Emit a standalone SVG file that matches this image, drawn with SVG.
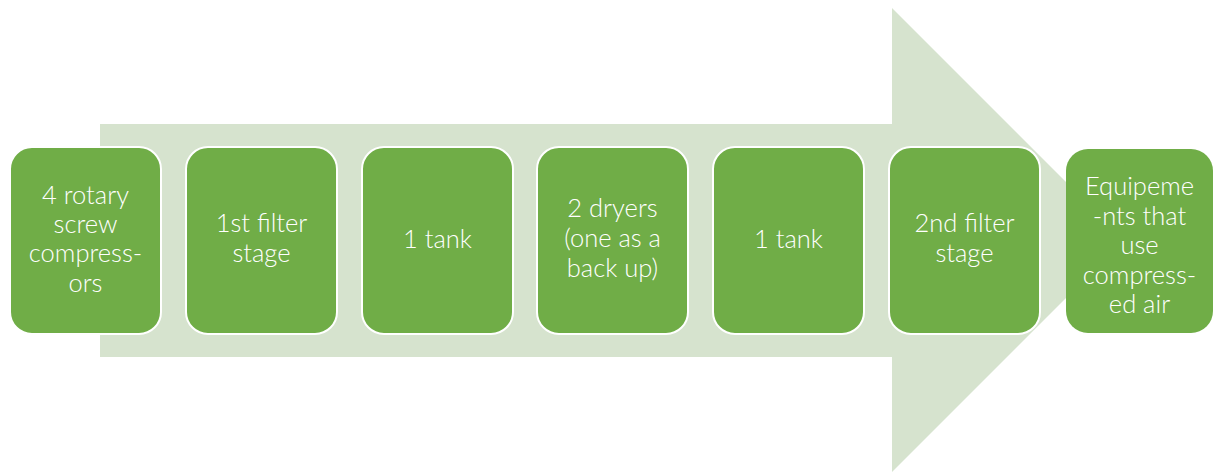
<svg xmlns="http://www.w3.org/2000/svg" width="1213" height="472" viewBox="0 0 1213 472">
<style>
.box{fill:#70AD47;stroke:#FFFFFF;stroke-width:2}
.t{fill:#FFFFFF;font-family:Lato,"Liberation Sans",sans-serif;font-weight:300;font-size:25.5px;text-anchor:middle}
</style>
<rect width="1213" height="472" fill="#FFFFFF"/>
<g id="connectors">
<path d="M100,124 H892 V8 L1124,240 L892,472 V357 H100 Z" fill="#D6E3CE"/>
</g>
<g id="n1"><rect class="box" x="10" y="147" width="151" height="187" rx="22"/>
<text class="t"><tspan x="85.5" y="204">4 rotary</tspan><tspan x="85.5" y="233">screw</tspan><tspan x="85.5" y="262">compress-</tspan><tspan x="85.5" y="292">ors</tspan></text></g>
<g id="n2"><rect class="box" x="186" y="147" width="151" height="187" rx="22"/>
<text class="t"><tspan x="261.5" y="232">1st filter</tspan><tspan x="261.5" y="262">stage</tspan></text></g>
<g id="n3"><rect class="box" x="362" y="147" width="151" height="187" rx="22"/>
<text class="t"><tspan x="437.5" y="248">1 tank</tspan></text></g>
<g id="n4"><rect class="box" x="537" y="147" width="151" height="187" rx="22"/>
<text class="t"><tspan x="612.5" y="217">2 dryers</tspan><tspan x="612.5" y="247">(one as a</tspan><tspan x="612.5" y="277">back up)</tspan></text></g>
<g id="n5"><rect class="box" x="713" y="147" width="151" height="187" rx="22"/>
<text class="t"><tspan x="788.5" y="248">1 tank</tspan></text></g>
<g id="n6"><rect class="box" x="889" y="147" width="151" height="187" rx="22"/>
<text class="t"><tspan x="964.5" y="232">2nd filter</tspan><tspan x="964.5" y="262">stage</tspan></text></g>
<g id="n7"><rect x="1066" y="149" width="147" height="184" rx="22" fill="#70AD47"/>
<text class="t"><tspan x="1139.5" y="195">Equipeme</tspan><tspan x="1139.5" y="225">-nts that</tspan><tspan x="1139.5" y="254">use</tspan><tspan x="1139.5" y="284">compress-</tspan><tspan x="1139.5" y="313">ed air</tspan></text></g>
</svg>
